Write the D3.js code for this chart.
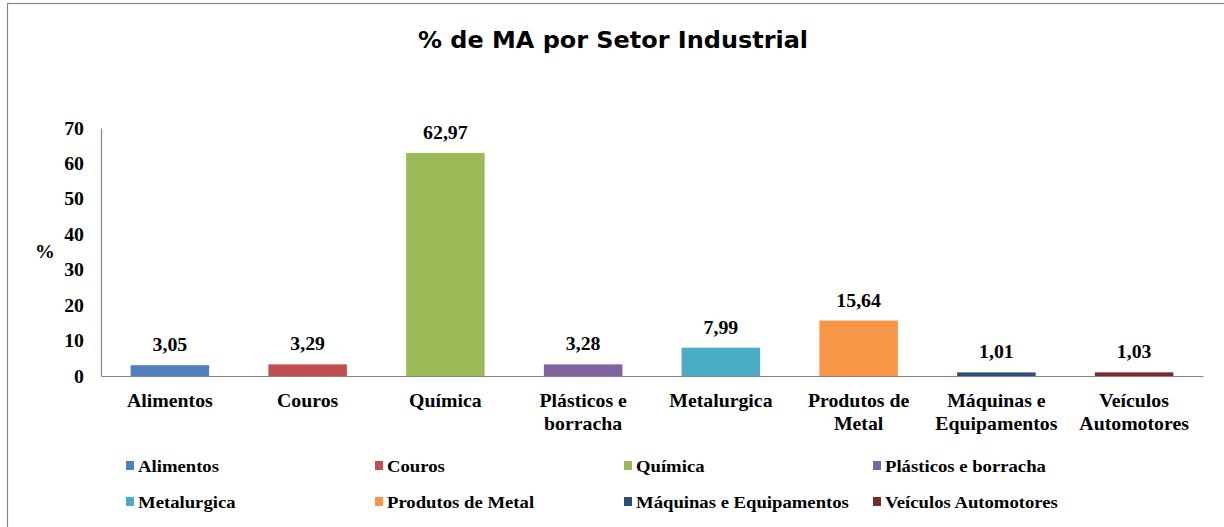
<!DOCTYPE html>
<html><head><meta charset="utf-8">
<script src="https://cdn.jsdelivr.net/npm/d3@7"></script>
<style>body{margin:0;background:#fff}svg{display:block}</style>
</head><body><svg id="c" width="1224" height="527"></svg>
<script>
const categories = ["Alimentos","Couros","Química","Plásticos e borracha","Metalurgica","Produtos de Metal","Máquinas e Equipamentos","Veículos Automotores"];
const axisLabels = [["Alimentos"],["Couros"],["Química"],["Plásticos e","borracha"],["Metalurgica"],["Produtos de","Metal"],["Máquinas e","Equipamentos"],["Veículos","Automotores"]];
const values = [3.05,3.29,62.97,3.28,7.99,15.64,1.01,1.03];
const valueLabels = ["3,05","3,29","62,97","3,28","7,99","15,64","1,01","1,03"];
const colors = ["#4F81BD","#C0504D","#9BBB59","#8064A2","#4BACC6","#F79646","#2C4D75","#772C2A"];
const yTicks = [0,10,20,30,40,50,60,70];
const title = "% de MA por Setor Industrial";

const svg = d3.select("#c");
const serif = "'Liberation Serif','Times New Roman',serif";
const SX = 1.1;
function place(sel, xf, yf){ // positions text with horizontal stretch
  sel.attr("x",0).attr("y",0)
     .attr("transform",(d,i)=>`translate(${xf(d,i)},${yf(d,i)}) scale(${SX},1)`);
}
function serifStyle(sel, fs){
  sel.attr("font-family",serif).attr("font-weight","bold").attr("font-size",fs).attr("fill","#000");
}

svg.append("rect").attr("x",7.5).attr("y",3.5).attr("width",1400).attr("height",700)
  .attr("fill","#fff").attr("stroke","#878787").attr("stroke-width",1.2);

svg.append("text").attr("x",613).attr("y",48).attr("text-anchor","middle")
  .attr("font-family","'DejaVu Sans',sans-serif").attr("font-weight","bold").attr("font-size",23)
  .attr("textLength",390).attr("lengthAdjust","spacingAndGlyphs")
  .attr("fill","#000").text(title);

const x = d3.scaleBand().domain(categories).range([101,1203]).paddingInner(0.43).paddingOuter(0.215);
const y = d3.scaleLinear().domain([0,70]).range([376,128]);

const yAxis = svg.append("g").attr("transform","translate(101,0)")
  .call(d3.axisLeft(y).tickValues(yTicks).tickSize(0).tickPadding(0));
yAxis.select(".domain").attr("stroke","#868686").attr("stroke-width",1.2);
yAxis.selectAll(".tick text").call(serifStyle,18).attr("x",0).attr("dy","0.34em")
  .attr("transform",`translate(-17,0) scale(${SX},1)`);

svg.append("text").call(serifStyle,18).attr("text-anchor","middle").text("%")
  .call(place,()=>45,()=>258);

svg.selectAll("rect.bar").data(values).join("rect").attr("class","bar")
  .attr("x",(d,i)=>x(categories[i])).attr("width",x.bandwidth())
  .attr("y",d=>y(d)).attr("height",d=>y(0)-y(d)).attr("fill",(d,i)=>colors[i]);

const xAxis = svg.append("g").attr("transform","translate(0,376)")
  .call(d3.axisBottom(x).tickSize(0).tickFormat(""));
xAxis.select(".domain").attr("stroke","#868686").attr("stroke-width",1.2);

svg.selectAll("text.val").data(values).join("text").attr("class","val")
  .attr("text-anchor","middle").call(serifStyle,18)
  .call(place,(d,i)=>x(categories[i])+x.bandwidth()/2,d=>y(d)-14)
  .text((d,i)=>valueLabels[i]);

const cl = svg.selectAll("text.cat").data(axisLabels).join("text").attr("class","cat")
  .attr("text-anchor","middle").call(serifStyle,18)
  .call(place,(d,i)=>x(categories[i])+x.bandwidth()/2,()=>407);
cl.selectAll("tspan").data(d=>d).join("tspan")
  .attr("x",0).attr("dy",(d,j)=>j===0?0:23.5).text(d=>d);

const lx = d3.scalePoint().domain([0,1,2,3]).range([126,873]);
const ly = d3.scalePoint().domain([0,1]).range([466,502]);
const lg = svg.selectAll("g.leg").data(categories).join("g").attr("class","leg")
  .attr("transform",(d,i)=>`translate(${lx(i%4)},${ly(Math.floor(i/4))})`);
lg.append("rect").attr("x",0).attr("y",-5).attr("width",8).attr("height",9).attr("fill",(d,i)=>colors[i]);
lg.append("text").call(serifStyle,17).attr("transform",`translate(12,6) scale(${SX},1)`).text(d=>d);
</script></body></html>
